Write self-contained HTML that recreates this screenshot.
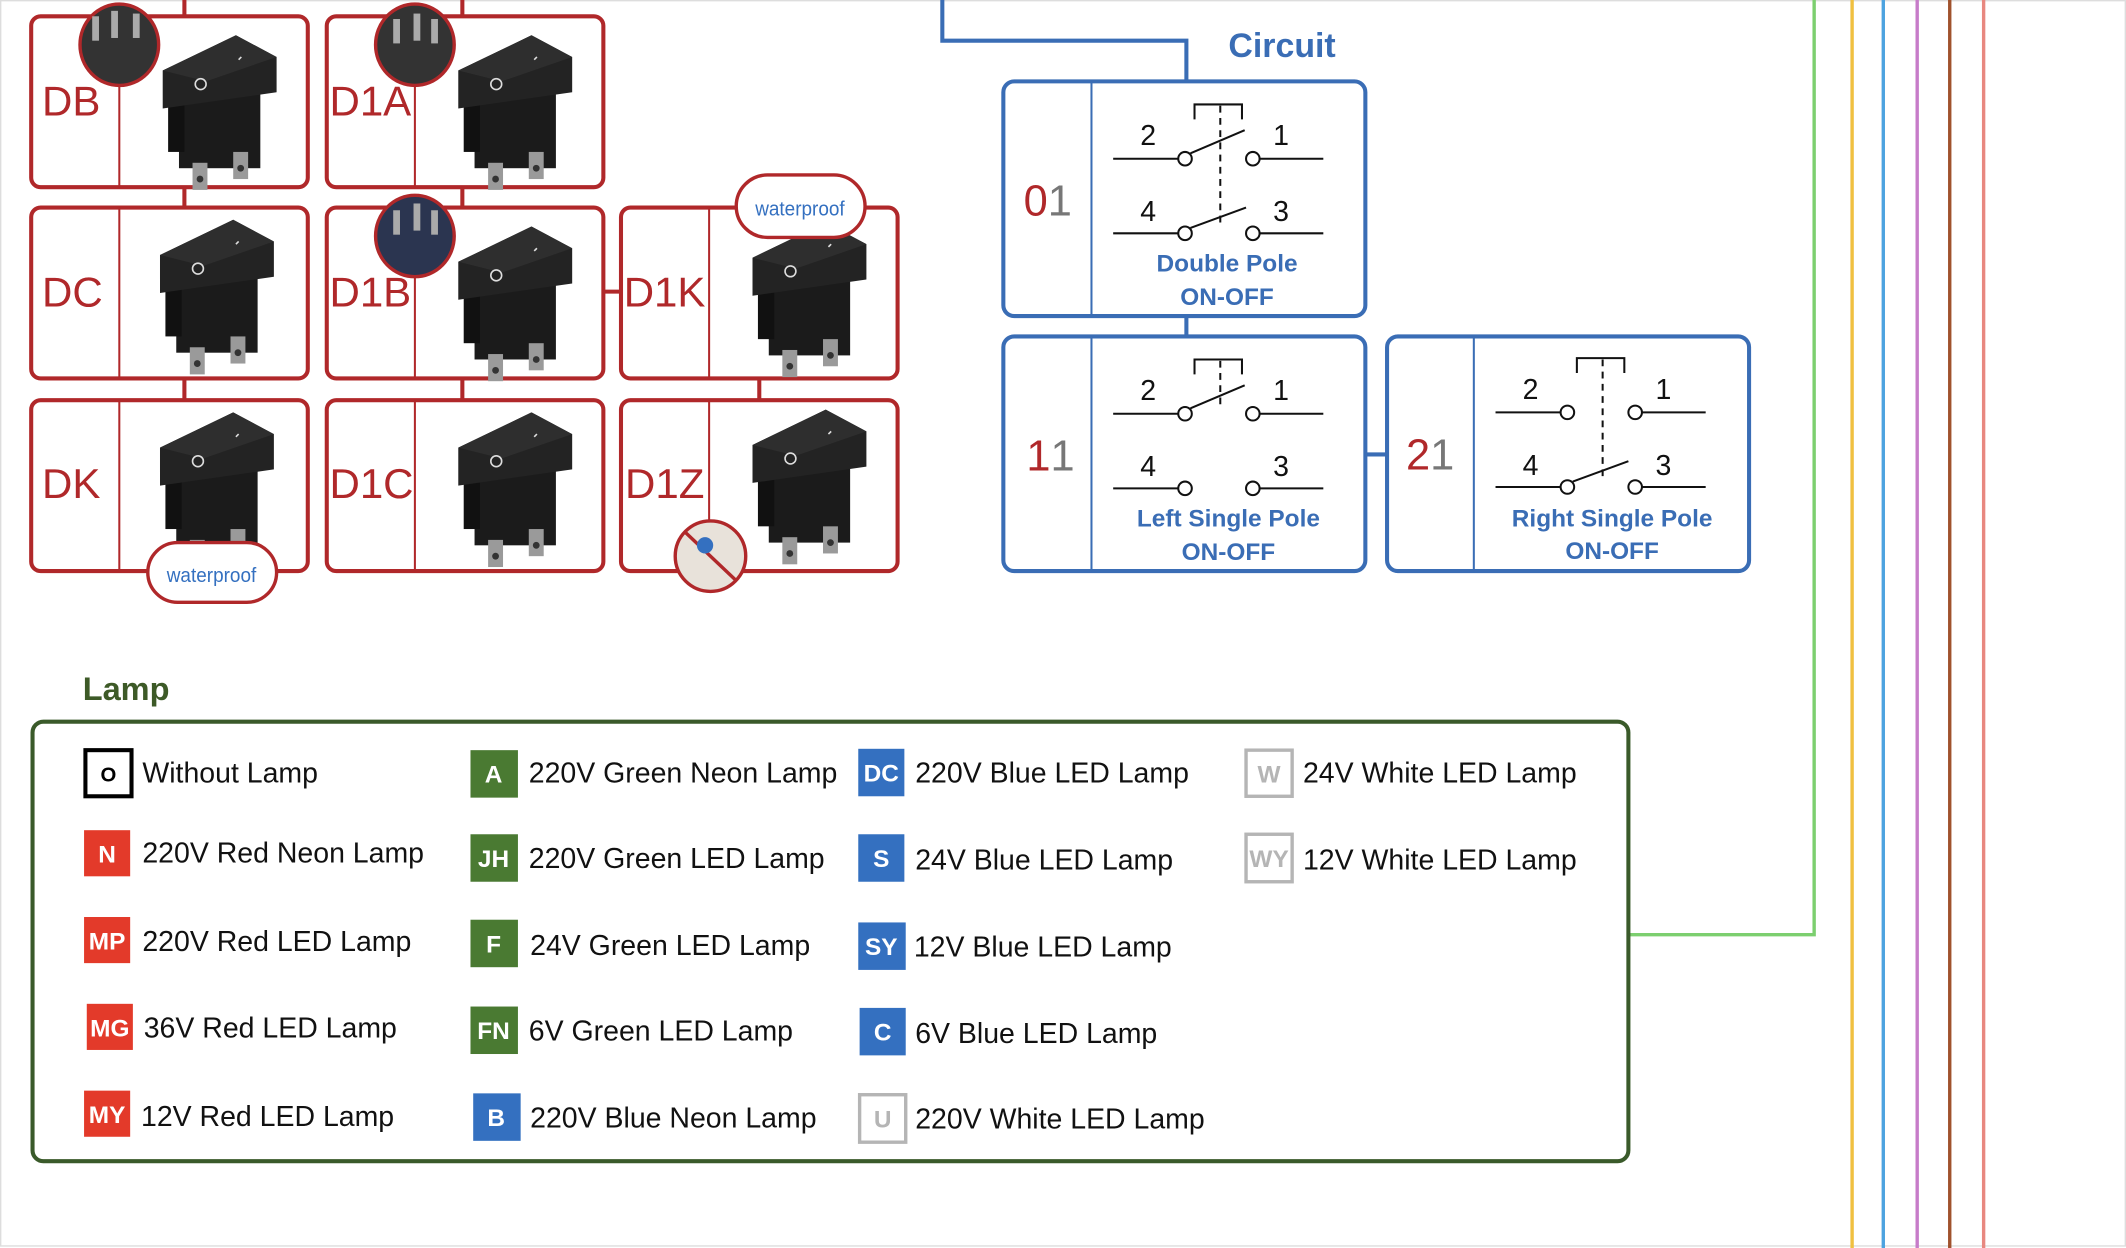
<!DOCTYPE html>
<html><head><meta charset="utf-8"><style>
html,body{margin:0;padding:0;background:#fff;}
svg{display:block;}
text{font-family:"Liberation Sans",sans-serif;}
</style></head><body>
<svg width="2126" height="1248" viewBox="0 0 1568 920" preserveAspectRatio="none" xmlns="http://www.w3.org/2000/svg">
<defs>
<g id="sw">
  <rect x="20" y="40" width="60" height="62" fill="#1b1b1b"/>
  <rect x="12" y="50" width="12" height="40" fill="#111"/>
  <polygon points="8,30 62,4 92,20 92,46 8,58" fill="#232323"/>
  <polygon points="8,30 62,4 92,20 40,38" fill="#2e2e2e"/>
  <circle cx="36" cy="40" r="4" fill="none" stroke="#ddd" stroke-width="1.2"/>
  <line x1="64" y1="22" x2="66" y2="20" stroke="#ddd" stroke-width="1.2"/>
  <rect x="30" y="98" width="11" height="20" fill="#9a9a9a"/>
  <rect x="60" y="90" width="11" height="20" fill="#9a9a9a"/>
  <circle cx="35.5" cy="110" r="2.5" fill="#333"/>
  <circle cx="65.5" cy="102" r="2.5" fill="#333"/>
</g>
</defs>
<rect x="0.5" y="0.5" width="1567" height="918" fill="none" stroke="#ddd" stroke-width="1"/>

<!-- red connectors -->
<g stroke="#b0282a" stroke-width="3" fill="none">
<line x1="136" y1="0" x2="136" y2="12"/><line x1="341" y1="0" x2="341" y2="12"/>
<line x1="136" y1="138" x2="136" y2="152"/><line x1="341" y1="138" x2="341" y2="152"/>
<line x1="136" y1="280" x2="136" y2="294"/><line x1="341" y1="280" x2="341" y2="294"/><line x1="560" y1="280" x2="560" y2="294"/>
<line x1="445" y1="215" x2="458" y2="215"/>
<rect x="23" y="12" width="204" height="126" rx="7"/><line x1="88" y1="12" x2="88" y2="138" stroke-width="1.5"/>
<rect x="241" y="12" width="204" height="126" rx="7"/><line x1="306" y1="12" x2="306" y2="138" stroke-width="1.5"/>
<rect x="23" y="153" width="204" height="126" rx="7"/><line x1="88" y1="153" x2="88" y2="279" stroke-width="1.5"/>
<rect x="241" y="153" width="204" height="126" rx="7"/><line x1="306" y1="153" x2="306" y2="279" stroke-width="1.5"/>
<rect x="458" y="153" width="204" height="126" rx="7"/><line x1="523" y1="153" x2="523" y2="279" stroke-width="1.5"/>
<rect x="23" y="295" width="204" height="126" rx="7"/><line x1="88" y1="295" x2="88" y2="421" stroke-width="1.5"/>
<rect x="241" y="295" width="204" height="126" rx="7"/><line x1="306" y1="295" x2="306" y2="421" stroke-width="1.5"/>
<rect x="458" y="295" width="204" height="126" rx="7"/><line x1="523" y1="295" x2="523" y2="421" stroke-width="1.5"/>
</g>
<g fill="#b0282a" font-size="31">
<text x="31" y="85">DB</text><text x="243" y="85">D1A</text>
<text x="31" y="226">DC</text><text x="243" y="226">D1B</text><text x="460" y="226">D1K</text>
<text x="31" y="367">DK</text><text x="243" y="367">D1C</text><text x="461" y="367">D1Z</text>
</g>
<use href="#sw" transform="translate(112,22)"/>
<use href="#sw" transform="translate(330,22)"/>
<use href="#sw" transform="translate(110,158)"/>
<use href="#sw" transform="translate(330,163)"/>
<use href="#sw" transform="translate(547,160)"/>
<use href="#sw" transform="translate(110,300)"/>
<use href="#sw" transform="translate(330,300)"/>
<use href="#sw" transform="translate(547,298)"/>
<!-- badges -->
<g stroke="#b0282a" stroke-width="2.5">
<ellipse cx="88" cy="33" rx="29" ry="30" fill="#333"/>
<ellipse cx="306" cy="33" rx="29" ry="30" fill="#333"/>
<ellipse cx="306" cy="174" rx="29" ry="30" fill="#2b3550"/>
<rect x="543" y="129" width="95" height="46" rx="23" fill="#fff"/>
<rect x="109" y="400" width="95" height="44" rx="22" fill="#fff"/>
<circle cx="524" cy="410" r="26" fill="#e8e2da"/>
<line x1="505" y1="392" x2="543" y2="428"/>
</g>
<g fill="#aaa"><rect x="68" y="12" width="5" height="18"/><rect x="82" y="8" width="5" height="20"/><rect x="98" y="10" width="5" height="18"/>
<rect x="290" y="14" width="5" height="18"/><rect x="305" y="10" width="5" height="20"/><rect x="318" y="14" width="5" height="18"/>
<rect x="290" y="155" width="5" height="18"/><rect x="305" y="150" width="5" height="20"/><rect x="318" y="155" width="5" height="18"/></g>
<circle cx="520" cy="402" r="6" fill="#3470c0"/>
<text x="590" y="159" text-anchor="middle" font-size="15" fill="#3470c0" textLength="66" lengthAdjust="spacingAndGlyphs">waterproof</text>
<text x="156" y="429" text-anchor="middle" font-size="15" fill="#3470c0" textLength="66" lengthAdjust="spacingAndGlyphs">waterproof</text>

<!-- circuit -->
<g stroke="#3a6db5" stroke-width="3" fill="none">
<polyline points="695,0 695,30 875,30 875,60"/>
<line x1="875" y1="233" x2="875" y2="248"/>
<line x1="1007" y1="335" x2="1023" y2="335"/>
<rect x="740" y="60" width="267" height="173" rx="8"/>
<rect x="740" y="248" width="267" height="173" rx="8"/>
<rect x="1023" y="248" width="267" height="173" rx="8"/>
<line x1="805" y1="60" x2="805" y2="233" stroke-width="1.5"/>
<line x1="805" y1="248" x2="805" y2="421" stroke-width="1.5"/>
<line x1="1087" y1="248" x2="1087" y2="421" stroke-width="1.5"/>
</g>
<text x="906" y="42" font-size="25" font-weight="bold" fill="#3a6db5">Circuit</text>
<text x="755" y="159" font-size="32"><tspan fill="#b0282a">0</tspan><tspan fill="#777">1</tspan></text>
<text x="757" y="347" font-size="32"><tspan fill="#b0282a">1</tspan><tspan fill="#777">1</tspan></text>
<text x="1037" y="346" font-size="32"><tspan fill="#b0282a">2</tspan><tspan fill="#777">1</tspan></text>

<g id="diag1" stroke="#111" stroke-width="1.5" fill="#fff">
<line x1="821" y1="117" x2="869" y2="117"/><line x1="929" y1="117" x2="976" y2="117"/>
<circle cx="874" cy="117" r="5"/><circle cx="924" cy="117" r="5"/>
<line x1="821" y1="172" x2="869" y2="172"/><line x1="929" y1="172" x2="976" y2="172"/>
<circle cx="874" cy="172" r="5"/><circle cx="924" cy="172" r="5"/>
<polyline points="881,88 881,77 916,77 916,88" fill="none"/>
<line x1="900" y1="78" x2="900" y2="166" stroke-dasharray="5,4"/>
<line x1="878" y1="113" x2="918" y2="96"/>
<line x1="878" y1="168" x2="919" y2="153"/>
</g>
<g font-family="Liberation Serif" font-size="21" fill="#111">
<text x="841" y="107">2</text><text x="939" y="107">1</text><text x="841" y="163">4</text><text x="939" y="163">3</text>
</g>
<g transform="translate(0,188)">
<g stroke="#111" stroke-width="1.5" fill="#fff">
<line x1="821" y1="117" x2="869" y2="117"/><line x1="929" y1="117" x2="976" y2="117"/>
<circle cx="874" cy="117" r="5"/><circle cx="924" cy="117" r="5"/>
<line x1="821" y1="172" x2="869" y2="172"/><line x1="929" y1="172" x2="976" y2="172"/>
<circle cx="874" cy="172" r="5"/><circle cx="924" cy="172" r="5"/>
<polyline points="881,88 881,77 916,77 916,88" fill="none"/>
<line x1="900" y1="78" x2="900" y2="110" stroke-dasharray="5,4"/>
<line x1="878" y1="113" x2="918" y2="96"/>
</g>
<g font-family="Liberation Serif" font-size="21" fill="#111">
<text x="841" y="107">2</text><text x="939" y="107">1</text><text x="841" y="163">4</text><text x="939" y="163">3</text>
</g></g>
<g transform="translate(282,187)">
<g stroke="#111" stroke-width="1.5" fill="#fff">
<line x1="821" y1="117" x2="869" y2="117"/><line x1="929" y1="117" x2="976" y2="117"/>
<circle cx="874" cy="117" r="5"/><circle cx="924" cy="117" r="5"/>
<line x1="821" y1="172" x2="869" y2="172"/><line x1="929" y1="172" x2="976" y2="172"/>
<circle cx="874" cy="172" r="5"/><circle cx="924" cy="172" r="5"/>
<polyline points="881,88 881,77 916,77 916,88" fill="none"/>
<line x1="900" y1="78" x2="900" y2="166" stroke-dasharray="5,4"/>
<line x1="878" y1="168" x2="919" y2="153"/>
</g>
<g font-family="Liberation Serif" font-size="21" fill="#111">
<text x="841" y="107">2</text><text x="939" y="107">1</text><text x="841" y="163">4</text><text x="939" y="163">3</text>
</g></g>
<g font-size="18" font-weight="bold" fill="#3a6db5" text-anchor="middle">
<text x="905" y="200">Double Pole</text><text x="905" y="225">ON-OFF</text>
<text x="906" y="388">Left Single Pole</text><text x="906" y="413">ON-OFF</text>
<text x="1189" y="388">Right Single Pole</text><text x="1189" y="412">ON-OFF</text>
</g>

<!-- colored lines -->
<g stroke-width="2.5" fill="none">
<polyline points="1338,0 1338,689 1201,689" stroke="#7ccf6f"/>
<line x1="1366" y1="0" x2="1366" y2="920" stroke="#f0c040"/>
<line x1="1389" y1="0" x2="1389" y2="920" stroke="#4da3e0"/>
<line x1="1414" y1="0" x2="1414" y2="920" stroke="#c77cc9"/>
<line x1="1438" y1="0" x2="1438" y2="920" stroke="#a0522d"/>
<line x1="1463" y1="0" x2="1463" y2="920" stroke="#e88880"/>
</g>

<!-- lamp -->
<text x="61" y="516" font-size="24" font-weight="bold" fill="#3d5a27">Lamp</text>
<rect x="24" y="532" width="1177" height="324" rx="8" fill="none" stroke="#3a5a2a" stroke-width="3"/>
<g font-size="15" font-weight="bold" text-anchor="middle">
<rect x="63" y="553" width="34" height="34" fill="#fff" stroke="#000" stroke-width="3"/><text x="80" y="576" fill="#000">O</text>
<rect x="62" y="612" width="34" height="34" fill="#e33a2a"/><text x="79" y="636" fill="#fff" font-size="18">N</text>
<rect x="62" y="676" width="34" height="34" fill="#e33a2a"/><text x="79" y="700" fill="#fff" font-size="18">MP</text>
<rect x="64" y="740" width="34" height="34" fill="#e33a2a"/><text x="81" y="764" fill="#fff" font-size="18">MG</text>
<rect x="62" y="804" width="34" height="34" fill="#e33a2a"/><text x="79" y="828" fill="#fff" font-size="18">MY</text>
<rect x="347" y="553" width="35" height="35" fill="#4a7a32"/><text x="364" y="577" fill="#fff" font-size="18">A</text>
<rect x="347" y="615" width="35" height="35" fill="#4a7a32"/><text x="364" y="639" fill="#fff" font-size="18">JH</text>
<rect x="347" y="678" width="35" height="35" fill="#4a7a32"/><text x="364" y="702" fill="#fff" font-size="18">F</text>
<rect x="347" y="742" width="35" height="35" fill="#4a7a32"/><text x="364" y="766" fill="#fff" font-size="18">FN</text>
<rect x="349" y="806" width="35" height="35" fill="#3470c0"/><text x="366" y="830" fill="#fff" font-size="18">B</text>
<rect x="633" y="552" width="34" height="35" fill="#3470c0"/><text x="650" y="576" fill="#fff" font-size="18">DC</text>
<rect x="633" y="615" width="34" height="35" fill="#3470c0"/><text x="650" y="639" fill="#fff" font-size="18">S</text>
<rect x="633" y="680" width="35" height="35" fill="#3470c0"/><text x="650" y="704" fill="#fff" font-size="18">SY</text>
<rect x="634" y="743" width="34" height="35" fill="#3470c0"/><text x="651" y="767" fill="#fff" font-size="18">C</text>
<rect x="634" y="807" width="34" height="35" fill="#fff" stroke="#b5b5b5" stroke-width="2.5"/><text x="651" y="831" fill="#b5b5b5" font-size="18">U</text>
<rect x="919" y="553" width="34" height="34" fill="#fff" stroke="#b5b5b5" stroke-width="2.5"/><text x="936" y="577" fill="#b5b5b5" font-size="18">W</text>
<rect x="919" y="615" width="34" height="35" fill="#fff" stroke="#b5b5b5" stroke-width="2.5"/><text x="936" y="639" fill="#b5b5b5" font-size="18">WY</text>
</g>
<g font-size="21" fill="#111">
<text x="105" y="577">Without Lamp</text>
<text x="105" y="636">220V Red Neon Lamp</text>
<text x="105" y="701">220V Red LED Lamp</text>
<text x="106" y="765">36V Red LED Lamp</text>
<text x="104" y="830">12V Red LED Lamp</text>
<text x="390" y="577">220V Green Neon Lamp</text>
<text x="390" y="640">220V Green LED Lamp</text>
<text x="391" y="704">24V Green LED Lamp</text>
<text x="390" y="767">6V Green LED Lamp</text>
<text x="391" y="831">220V Blue Neon Lamp</text>
<text x="675" y="577">220V Blue LED Lamp</text>
<text x="675" y="641">24V Blue LED Lamp</text>
<text x="674" y="705">12V Blue LED Lamp</text>
<text x="675" y="769">6V Blue LED Lamp</text>
<text x="675" y="832">220V White LED Lamp</text>
<text x="961" y="577">24V White LED Lamp</text>
<text x="961" y="641">12V White LED Lamp</text>
</g>
</svg>
</body></html>
